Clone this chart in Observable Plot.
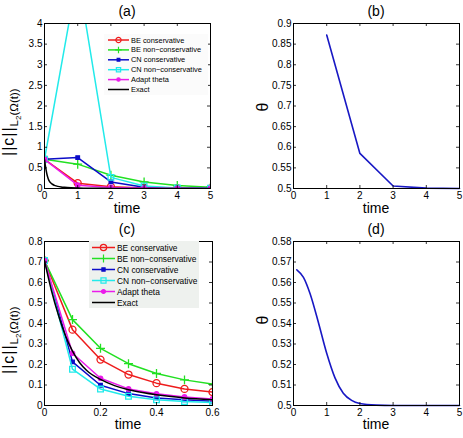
<!DOCTYPE html>
<html>
<head>
<meta charset="utf-8">
<script src="https://cdn.jsdelivr.net/npm/d3@7"></script>
<script src="https://cdn.jsdelivr.net/npm/@observablehq/plot@0.6"></script>
<style>
  html, body { margin: 0; padding: 0; background: #fff; }
  #chart { position: relative; width: 463px; height: 438px; overflow: hidden; background: #fff; }
  #chart svg { position: absolute; }
</style>
</head>
<body>
<div id="chart"></div>
<script>
// ---------- data ----------
// (a) coarse time steps, dt = 1
const timeA    = [0, 1, 2, 3, 4, 5];
const beConsA  = [0.707, 0.13, 0.045, 0.015, 0.006, 0.003];
const beNonA   = [0.707, 0.59, 0.32, 0.16, 0.07, 0.03];
const cnConsA  = [0.707, 0.75, 0.16, 0.03, 0.01, 0.004];
const cnNonA   = [0.707, 5.2, 0.27, 0.06, 0.015, 0.005];
const adaptA   = [0.707, 0.08, 0.025, 0.01, 0.004, 0.002];

// exact solution norm
const timeExact  = [0, 0.025, 0.05, 0.075, 0.1, 0.125, 0.15, 0.2, 0.25, 0.3, 0.35, 0.4, 0.5, 0.6, 0.8, 1, 1.5, 2, 3, 4, 5];
const normExact  = [0.707, 0.56, 0.44, 0.34, 0.265, 0.21, 0.172, 0.127, 0.097, 0.077, 0.063, 0.052, 0.037, 0.028, 0.017, 0.011, 0.005, 0.003, 0.001, 0.0005, 0.0002];

// (b) theta for dt = 1
const timeB  = [1, 2, 3, 4, 5];
const thetaB = [0.872, 0.585, 0.506, 0.501, 0.5];

// (c) fine time steps, dt = 0.1
const timeC    = [0, 0.1, 0.2, 0.3, 0.4, 0.5, 0.6];
const beConsC  = [0.707, 0.37, 0.224, 0.151, 0.109, 0.081, 0.065];
const beNonC   = [0.707, 0.419, 0.279, 0.204, 0.156, 0.125, 0.104];
const cnConsC  = [0.707, 0.213, 0.099, 0.058, 0.037, 0.028, 0.021];
const cnNonC   = [0.707, 0.177, 0.080, 0.045, 0.028, 0.019, 0.015];
const adaptC   = [0.707, 0.255, 0.133, 0.081, 0.057, 0.042, 0.032];

// (d) theta for dt = 0.1
const timeD  = [0.1, 0.3, 0.5, 0.75, 1.0, 1.25, 1.5, 1.75, 2.0, 2.5, 3, 4, 5];
const thetaD = [0.5662, 0.5625, 0.5545, 0.5405, 0.5255, 0.5135, 0.506, 0.5025, 0.501, 0.5002, 0.5, 0.5, 0.5];

// axis ticks
const ticksTime5 = [0, 1, 2, 3, 4, 5];
const ticksNormA = [0, 0.5, 1, 1.5, 2, 2.5, 3, 3.5, 4];
const ticksThetaB = [0.5, 0.55, 0.6, 0.65, 0.7, 0.75, 0.8, 0.85, 0.9];
const ticksTimeC = [0, 0.2, 0.4, 0.6];
const ticksNormC = [0, 0.1, 0.2, 0.3, 0.4, 0.5, 0.6, 0.7, 0.8];
const ticksThetaD = [0.5, 0.51, 0.52, 0.53, 0.54, 0.55, 0.56, 0.57, 0.58];

const legendNames = ["BE conservative", "BE non\u2212conservative", "CN conservative", "CN non\u2212conservative", "Adapt theta", "Exact"];

// ---------- styling ----------
const FONT = '"Liberation Sans", Arial, Helvetica, sans-serif';
const RED = "#ee1c1c", GREEN = "#22e022", BLUE = "#0c0cc8", CYAN = "#22eaea", MAGENTA = "#ea1cea", BLACK = "#000";
const THETA_BLUE = "#1818c4";

const styles = [
  {color: RED,     symbol: "circle", r: 3.5, fill: "none"},
  {color: GREEN,   symbol: "plus",   r: 3.0, fill: "none"},
  {color: BLUE,    symbol: "square", r: 2.0, fill: BLUE},
  {color: CYAN,    symbol: "square", r: 3.2, fill: "none"},
  {color: MAGENTA, symbol: "circle", r: 2.2, fill: MAGENTA},
  {color: BLACK,   symbol: null}
];

const fmt = d => String(+d.toFixed(3));
const zip = (xs, ys) => xs.map((x, i) => ({x, y: ys[i]}));

function panel(o) {
  const fw = o.width - o.ml - o.mr;
  const fh = o.height - o.mt - o.mb;
  const t = 3; // inward tick length
  const svg = Plot.plot({
    width: o.width, height: o.height,
    marginLeft: o.ml, marginTop: o.mt, marginRight: o.mr, marginBottom: o.mb,
    x: {domain: o.xDomain},
    y: {domain: o.yDomain},
    style: {fontFamily: FONT, fontSize: "10px", color: "#000", background: "transparent", overflow: "visible"},
    marks: [
      ...o.marks,
      Plot.tickX(o.xTicks, {x: d => d, insetTop: fh - t, stroke: "#000", strokeWidth: 0.8}),
      Plot.tickX(o.xTicks, {x: d => d, insetBottom: fh - t, stroke: "#000", strokeWidth: 0.8}),
      Plot.tickY(o.yTicks, {y: d => d, insetRight: fw - t, stroke: "#000", strokeWidth: 0.8}),
      Plot.tickY(o.yTicks, {y: d => d, insetLeft: fw - t, stroke: "#000", strokeWidth: 0.8}),
      Plot.frame({stroke: "#000", strokeWidth: 1}),
      Plot.axisX({ticks: o.xTicks, tickSize: 0, tickPadding: 3, tickFormat: fmt, label: null}),
      Plot.axisY({ticks: o.yTicks, tickSize: 0, tickPadding: 2, tickFormat: fmt, label: null})
    ]
  });
  svg.style.left = o.left + "px";
  svg.style.top = o.top + "px";
  return svg;
}

function seriesMarks(time, valueSets, exactRows) {
  const marks = [];
  valueSets.forEach((vals, i) => {
    const s = styles[i];
    const rows = zip(time, vals);
    marks.push(Plot.line(rows, {x: "x", y: "y", stroke: s.color, strokeWidth: 1.5, clip: true}));
    marks.push(Plot.dot(rows, {x: "x", y: "y", symbol: s.symbol, r: s.r, stroke: s.color, fill: s.fill, strokeWidth: 1.3, clip: true}));
  });
  marks.push(Plot.line(exactRows, {x: "x", y: "y", stroke: BLACK, strokeWidth: 1.5, curve: "monotone-x", clip: true}));
  return marks;
}

const chart = document.getElementById("chart");

// (a)
chart.appendChild(panel({
  left: 0, top: 0, width: 232, height: 219, ml: 44, mt: 23, mr: 22, mb: 31,
  xDomain: [0, 5], yDomain: [0, 4], xTicks: ticksTime5, yTicks: ticksNormA,
  marks: seriesMarks(timeA, [beConsA, beNonA, cnConsA, cnNonA, adaptA], zip(timeExact, normExact))
}));

// (b)
chart.appendChild(panel({
  left: 232, top: 0, width: 231, height: 219, ml: 61, mt: 23, mr: 4, mb: 31,
  xDomain: [0, 5], yDomain: [0.5, 0.9], xTicks: ticksTime5, yTicks: ticksThetaB,
  marks: [Plot.line(zip(timeB, thetaB), {x: "x", y: "y", stroke: THETA_BLUE, strokeWidth: 1.6})]
}));

// (c)
chart.appendChild(panel({
  left: 0, top: 219, width: 232, height: 219, ml: 44, mt: 22, mr: 20, mb: 33,
  xDomain: [0, 0.6], yDomain: [0, 0.8], xTicks: ticksTimeC, yTicks: ticksNormC,
  marks: seriesMarks(timeC, [beConsC, beNonC, cnConsC, cnNonC, adaptC],
                     zip(timeExact, normExact).filter(d => d.x <= 0.6))
}));

// (d)
chart.appendChild(panel({
  left: 232, top: 219, width: 231, height: 219, ml: 61, mt: 22, mr: 4, mb: 33,
  xDomain: [0, 5], yDomain: [0.5, 0.58], xTicks: ticksTime5, yTicks: ticksThetaD,
  marks: [Plot.line(zip(timeD, thetaD), {x: "x", y: "y", stroke: THETA_BLUE, strokeWidth: 1.6, curve: "monotone-x"})]
}));

// ---------- titles, axis labels, legends ----------
const ov = d3.select(chart).append("svg")
  .attr("width", 463).attr("height", 438)
  .style("left", "0px").style("top", "0px")
  .style("pointer-events", "none")
  .attr("font-family", FONT);

[["(a)", 127, 16], ["(b)", 376, 16], ["(c)", 127, 234], ["(d)", 376, 234]].forEach(([s, x, y]) =>
  ov.append("text").attr("x", x).attr("y", y).attr("text-anchor", "middle").attr("font-size", 14).text(s));

[[127, 213], [376, 213], [128, 429], [376, 429]].forEach(([x, y]) =>
  ov.append("text").attr("x", x).attr("y", y).attr("text-anchor", "middle").attr("font-size", 14).text("time"));

[[262, 107], [262, 320]].forEach(([x, y]) =>
  ov.append("text").attr("transform", `translate(${x},${y}) rotate(-90)`)
    .attr("text-anchor", "middle").attr("dominant-baseline", "central").attr("font-size", 16).text("\u03b8"));

function normLabel(x, y) {
  const t = ov.append("text").attr("transform", `translate(${x},${y}) rotate(-90)`).attr("font-size", 16);
  t.append("tspan").attr("letter-spacing", 1).text("||c||");
  t.append("tspan").attr("font-size", 11.5).attr("dy", 4).text("L");
  t.append("tspan").attr("font-size", 8).attr("dy", 3).text("2");
  t.append("tspan").attr("font-size", 11.5).attr("dy", -3).text("(\u03a9(t))");
}
normLabel(14, 156);
normLabel(14, 374);

function legend(o) {
  const g = ov.append("g");
  g.append("rect").attr("x", o.x).attr("y", o.y).attr("width", o.w).attr("height", o.h).attr("fill", o.bg);
  legendNames.forEach((name, i) => {
    const s = styles[i];
    const cy = o.row0 + i * o.step;
    g.append("line").attr("x1", o.lx0).attr("x2", o.lx1).attr("y1", cy).attr("y2", cy)
      .attr("stroke", s.color).attr("stroke-width", 1.5);
    if (s.symbol) {
      const sym = {circle: d3.symbolCircle, plus: d3.symbolPlus, square: d3.symbolSquare}[s.symbol];
      const r = s.r * o.scale;
      g.append("path").attr("transform", `translate(${(o.lx0 + o.lx1) / 2},${cy})`)
        .attr("d", d3.symbol(sym, Math.PI * r * r)())
        .attr("fill", s.fill).attr("stroke", s.color).attr("stroke-width", 1.2);
    }
    g.append("text").attr("x", o.tx).attr("y", cy).attr("dominant-baseline", "central")
      .attr("font-size", o.fs).text(name);
  });
}
legend({x: 104, y: 34, w: 104, h: 61, bg: "#fbfbfb", row0: 40, step: 9.9, lx0: 108, lx1: 129, tx: 131, fs: 7.4, scale: 0.75});
legend({x: 89, y: 241, w: 110, h: 67, bg: "#eef1ee", row0: 247.5, step: 11, lx0: 92, lx1: 115, tx: 117, fs: 8.4, scale: 0.9});
</script>
</body>
</html>
